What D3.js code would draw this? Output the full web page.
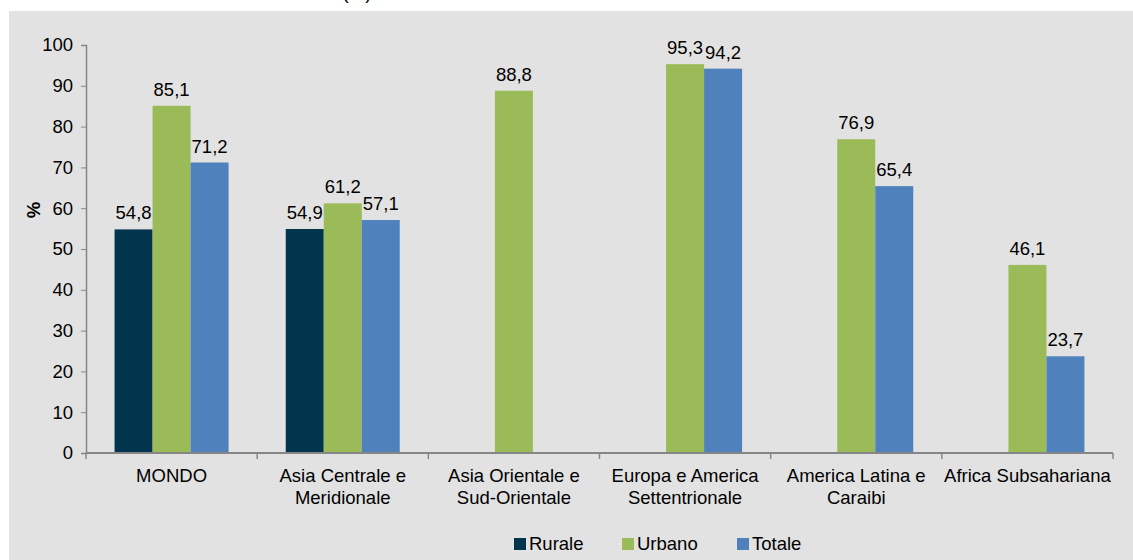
<!DOCTYPE html>
<html><head><meta charset="utf-8">
<script src="https://cdn.jsdelivr.net/npm/d3@7"></script>
<style>body{margin:0;background:#fff;}svg{display:block;font-family:"Liberation Sans",Arial,sans-serif;}</style>
</head><body>
<svg id="c" width="1133" height="560"></svg>
<script>
const categories = ["MONDO","Asia Centrale e Meridionale","Asia Orientale e Sud-Orientale","Europa e America Settentrionale","America Latina e Caraibi","Africa Subsahariana"];
const categoryLines = [["MONDO"],["Asia Centrale e","Meridionale"],["Asia Orientale e","Sud-Orientale"],["Europa e America","Settentrionale"],["America Latina e","Caraibi"],["Africa Subsahariana"]];
const seriesNames = ["Rurale","Urbano","Totale"];
const rurale = [54.8, 54.9, null, null, null, null];
const urbano = [85.1, 61.2, 88.8, 95.3, 76.9, 46.1];
const totale = [71.2, 57.1, null, 94.2, 65.4, 23.7];
const yTicks = [0,10,20,30,40,50,60,70,80,90,100];
const colors = ["#02344e","#9bbb59","#4f81bd"];
const FS = 18.5;
const FF = "Liberation Sans, Arial, sans-serif";

const svg = d3.select("#c");
svg.append("rect").attr("x",9).attr("y",11).attr("width",1124).attr("height",549).attr("fill","#e2e2e2");
svg.append("text").attr("x",357).attr("y",-1).attr("text-anchor","middle").attr("font-size",FS).attr("font-family",FF).text("(%)");

const x0 = d3.scaleBand().domain(categories).range([86,1113]).paddingInner(0).paddingOuter(0);
const groupW = 114;
const x1 = d3.scaleBand().domain(seriesNames)
  .range([(x0.bandwidth()-groupW)/2, (x0.bandwidth()+groupW)/2]).paddingInner(0).paddingOuter(0);
const y = d3.scaleLinear().domain([0,100]).range([453,45]);

const series = [rurale, urbano, totale];
const fmt = v => d3.format(".1f")(v).replace(".",",");

series.forEach((arr,si)=>{
  const g = svg.append("g");
  arr.forEach((v,ci)=>{
    if (v==null) return;
    const bx = x0(categories[ci]) + x1(seriesNames[si]);
    g.append("rect").attr("x",bx).attr("y",y(v)).attr("width",x1.bandwidth()).attr("height",y(0)-y(v)).attr("fill",colors[si]);
    g.append("text").attr("x",bx+x1.bandwidth()/2).attr("y",y(v)-10).attr("text-anchor","middle")
      .attr("font-size",FS).attr("font-family",FF).attr("fill","#000").text(fmt(v));
  });
});

// y axis
const yAxis = d3.axisLeft(y).tickValues(yTicks).tickSize(5).tickPadding(8);
const ya = svg.append("g").attr("transform","translate(86,0)").call(yAxis);
ya.select(".domain").attr("stroke","#868686").attr("stroke-width",1.5);
ya.selectAll(".tick line").attr("stroke","#868686");
ya.selectAll(".tick text").attr("font-size",FS).attr("fill","#000").attr("font-family",FF);

// x axis
const xa = svg.append("g").attr("transform","translate(0,453)");
xa.append("line").attr("x1",86).attr("x2",1113).attr("y1",0).attr("y2",0).attr("stroke","#868686").attr("stroke-width",2);
const bounds = categories.map(c=>x0(c)).concat([x0.range()[1]]);
bounds.forEach(b=>xa.append("line").attr("x1",b).attr("x2",b).attr("y1",0).attr("y2",6).attr("stroke","#868686").attr("stroke-width",1.5));
categories.forEach((c,i)=>{
  const cx = x0(c)+x0.bandwidth()/2;
  const t = xa.append("text").attr("x",cx).attr("y",29).attr("text-anchor","middle").attr("font-size",FS).attr("font-family",FF).attr("fill","#000");
  categoryLines[i].forEach((ln,j)=>t.append("tspan").attr("x",cx).attr("dy",j?22:0).text(ln));
});

// y title
svg.append("text").attr("transform","translate(40,210) rotate(-90)").attr("text-anchor","middle")
  .attr("font-size",FS).attr("font-family",FF).attr("font-weight","bold").text("%");

// legend
const legX = [514, 622, 737];
seriesNames.forEach((s,i)=>{
  svg.append("rect").attr("x",legX[i]).attr("y",538).attr("width",12).attr("height",12).attr("fill",colors[i]);
  svg.append("text").attr("x",legX[i]+15).attr("y",550).attr("font-size",FS).attr("font-family",FF).attr("fill","#000").text(s);
});
</script>
</body></html>
